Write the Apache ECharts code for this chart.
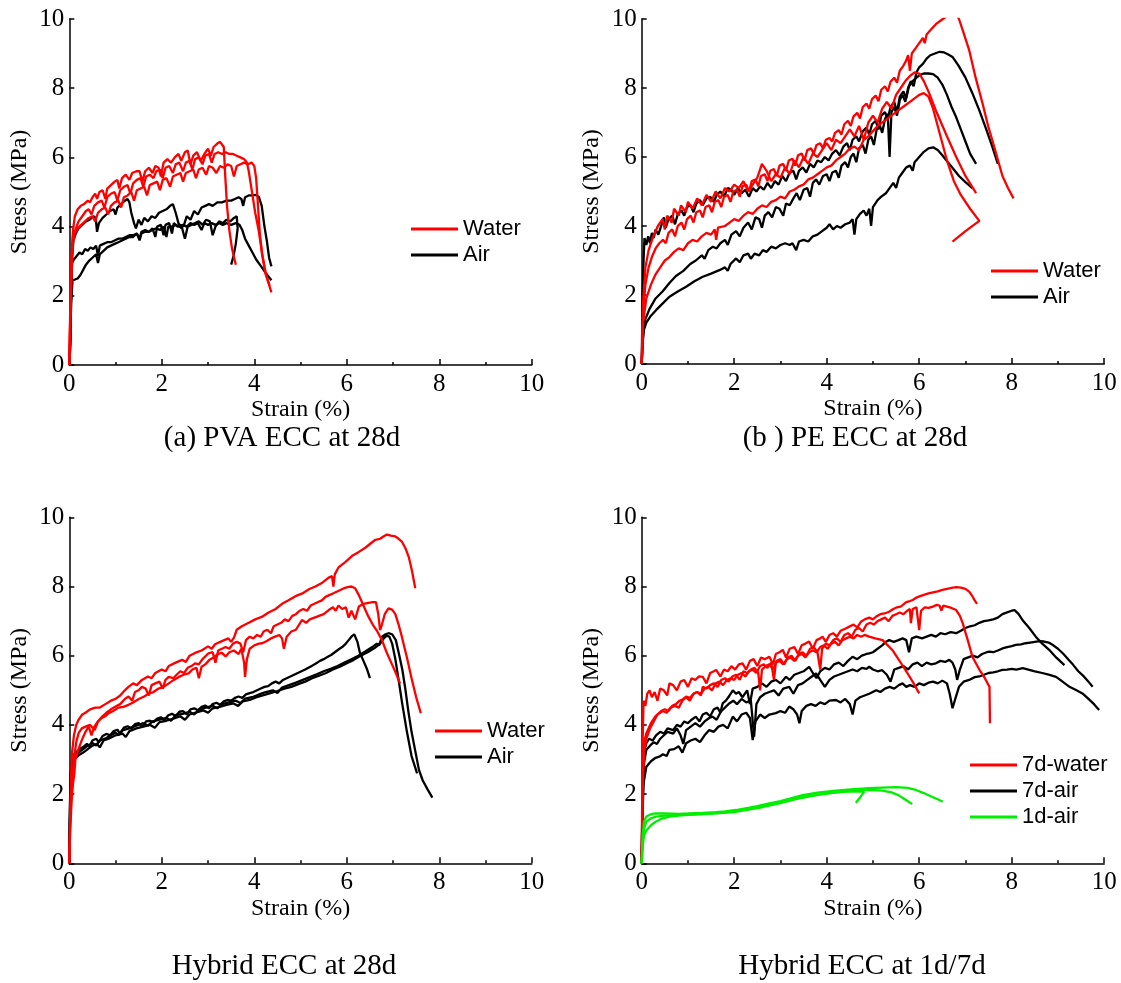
<!DOCTYPE html>
<html>
<head>
<meta charset="utf-8">
<script src="https://cdn.jsdelivr.net/npm/echarts@6/dist/echarts.min.js"></script>
<style>html,body{margin:0;padding:0;background:#fff}#c{width:1121px;height:983px}</style>
</head>
<body>
<div id="c"></div>
<script>
// ---------------- DATA ----------------
const xTicks = [0, 2, 4, 6, 8, 10];
const yTicks = [0, 2, 4, 6, 8, 10];
const captions = ['(a) PVA ECC at 28d', '(b ) PE ECC at 28d', 'Hybrid ECC at 28d', 'Hybrid ECC at 1d/7d'];
const legendA = ['Water', 'Air'];
const legendD = ['7d-water', '7d-air', '1d-air'];

// (a) PVA ECC
const aWater1 = [[0,0],[0.02,1.6],[0.05,3.2],[0.08,3.9],[0.12,4.3],[0.18,4.5],[0.25,4.6],[0.32,4.65],[0.4,4.75],[0.45,4.7],[0.5,4.85],[0.56,4.95],[0.6,4.8],[0.65,5.0],[0.72,5.05],[0.78,4.8],[0.82,5.1],[0.9,5.2],[0.98,5.3],[1.04,5.35],[1.08,5.1],[1.14,5.4],[1.22,5.5],[1.3,5.35],[1.36,5.55],[1.45,5.6],[1.52,5.6],[1.58,5.3],[1.64,5.6],[1.72,5.7],[1.8,5.55],[1.86,5.75],[1.93,5.7],[1.98,5.45],[2.04,5.85],[2.12,5.95],[2.2,5.85],[2.28,6.0],[2.36,6.1],[2.42,5.9],[2.5,6.15],[2.56,6.2],[2.62,5.8],[2.68,6.05],[2.76,6.15],[2.84,5.9],[2.92,6.1],[3.0,6.25],[3.06,6.05],[3.12,6.3],[3.2,6.4],[3.26,6.45],[3.3,6.5],[3.34,6.3],[3.37,5.5],[3.41,4.6],[3.46,3.9],[3.52,3.35],[3.6,2.9]];
const aWater2 = [[0,0],[0.02,1.4],[0.05,3.0],[0.08,3.7],[0.13,3.9],[0.2,4.15],[0.28,4.3],[0.36,4.45],[0.42,4.5],[0.48,4.35],[0.54,4.6],[0.62,4.7],[0.7,4.75],[0.76,4.55],[0.82,4.85],[0.9,4.95],[0.98,5.0],[1.04,4.75],[1.1,5.05],[1.18,5.15],[1.26,5.2],[1.32,4.95],[1.38,5.25],[1.46,5.35],[1.54,5.4],[1.6,5.15],[1.66,5.45],[1.74,5.5],[1.82,5.4],[1.88,5.6],[1.96,5.65],[2.02,5.4],[2.08,5.7],[2.16,5.75],[2.24,5.55],[2.3,5.8],[2.38,5.85],[2.46,5.6],[2.52,5.85],[2.6,5.9],[2.66,5.65],[2.72,5.95],[2.8,6.0],[2.88,5.8],[2.94,6.05],[3.02,6.1],[3.08,5.85],[3.14,6.1],[3.22,6.15],[3.3,6.1],[3.38,6.15],[3.46,6.1],[3.54,6.1],[3.62,6.05],[3.7,6.0],[3.78,5.95],[3.84,5.85],[3.88,5.6],[3.95,5.0],[4.02,4.4],[4.1,3.85],[4.17,3.2],[4.24,2.7],[4.3,2.4],[4.37,2.1]];
const aWater3 = [[0,0],[0.02,1.2],[0.05,2.8],[0.08,3.55],[0.12,3.8],[0.18,3.95],[0.26,4.05],[0.34,4.15],[0.42,4.25],[0.5,4.3],[0.56,4.15],[0.62,4.4],[0.7,4.5],[0.78,4.55],[0.84,4.35],[0.9,4.6],[0.98,4.7],[1.06,4.75],[1.12,4.55],[1.18,4.85],[1.26,4.9],[1.34,5.0],[1.4,4.75],[1.46,5.05],[1.54,5.1],[1.62,5.15],[1.68,4.9],[1.74,5.2],[1.82,5.25],[1.9,5.3],[1.96,5.05],[2.02,5.35],[2.1,5.4],[2.18,5.15],[2.24,5.45],[2.32,5.5],[2.4,5.55],[2.46,5.3],[2.52,5.55],[2.6,5.6],[2.68,5.65],[2.74,5.4],[2.8,5.65],[2.88,5.7],[2.96,5.5],[3.02,5.75],[3.1,5.7],[3.18,5.55],[3.26,5.75],[3.34,5.7],[3.42,5.8],[3.5,5.75],[3.56,5.45],[3.62,5.75],[3.7,5.8],[3.78,5.85],[3.86,5.8],[3.94,5.85],[4.0,5.75],[4.04,5.4],[4.08,4.6],[4.12,3.8],[4.17,3.2],[4.24,2.65],[4.33,2.3]];
const aAir1 = [[0,0],[0.02,0.5],[0.04,2.0],[0.06,3.1],[0.09,3.6],[0.14,3.8],[0.2,3.95],[0.28,4.05],[0.36,4.15],[0.44,4.2],[0.52,4.3],[0.57,4.25],[0.6,3.85],[0.64,4.1],[0.72,4.25],[0.8,4.35],[0.88,4.45],[0.96,4.5],[1.0,4.35],[1.04,4.55],[1.12,4.65],[1.2,4.75],[1.26,4.8],[1.3,4.7],[1.34,4.4],[1.4,4.1],[1.44,3.95],[1.5,4.2],[1.56,4.05],[1.62,4.25],[1.7,4.15],[1.78,4.3],[1.86,4.25],[1.94,4.4],[2.02,4.45],[2.1,4.5],[2.18,4.6],[2.24,4.65],[2.3,4.4],[2.36,4.1],[2.42,3.95],[2.48,4.05],[2.54,4.3],[2.62,4.2],[2.7,4.45],[2.78,4.35],[2.86,4.55],[2.94,4.6],[3.02,4.65],[3.1,4.6],[3.2,4.7],[3.3,4.7],[3.4,4.75],[3.5,4.75],[3.58,4.8],[3.66,4.85],[3.72,4.8],[3.76,4.6],[3.8,4.85],[3.88,4.9],[3.96,4.9],[4.04,4.92],[4.1,4.85],[4.16,4.6],[4.22,4.0],[4.27,3.6],[4.32,3.1],[4.37,2.85]];
const aAir2 = [[0,0],[0.02,0.8],[0.04,2.2],[0.06,2.95],[0.1,3.05],[0.16,3.15],[0.22,3.25],[0.28,3.2],[0.34,3.35],[0.4,3.3],[0.46,3.4],[0.52,3.35],[0.58,3.45],[0.62,3.15],[0.66,3.45],[0.74,3.5],[0.82,3.55],[0.9,3.55],[0.98,3.6],[1.06,3.65],[1.14,3.65],[1.22,3.7],[1.3,3.75],[1.38,3.75],[1.46,3.8],[1.52,3.65],[1.56,3.85],[1.64,3.9],[1.72,3.85],[1.8,3.95],[1.86,3.7],[1.9,4.0],[1.98,4.05],[2.04,3.75],[2.08,4.05],[2.16,4.1],[2.22,3.8],[2.26,4.1],[2.34,4.0],[2.42,4.05],[2.5,3.65],[2.56,4.0],[2.64,4.05],[2.72,4.1],[2.8,4.15],[2.88,4.05],[2.96,4.2],[3.04,4.15],[3.1,3.75],[3.16,4.0],[3.24,4.15],[3.32,4.1],[3.4,4.2],[3.48,4.15],[3.56,4.25],[3.62,4.3],[3.66,4.3],[3.64,3.95],[3.6,3.5],[3.55,3.15],[3.5,2.9]];
const aAir3 = [[0,0],[0.02,0.6],[0.04,1.8],[0.07,2.45],[0.12,2.47],[0.18,2.5],[0.24,2.6],[0.3,2.75],[0.36,2.9],[0.42,3.0],[0.5,3.1],[0.58,3.2],[0.62,2.95],[0.66,3.2],[0.74,3.3],[0.82,3.4],[0.9,3.45],[0.98,3.5],[1.06,3.55],[1.14,3.6],[1.22,3.65],[1.3,3.7],[1.38,3.7],[1.46,3.8],[1.52,3.6],[1.56,3.8],[1.64,3.85],[1.72,3.85],[1.8,3.9],[1.88,3.95],[1.96,3.9],[2.04,4.0],[2.1,3.7],[2.14,4.0],[2.22,4.0],[2.3,4.05],[2.38,4.0],[2.46,4.05],[2.54,4.0],[2.62,4.1],[2.7,4.05],[2.78,4.1],[2.86,3.9],[2.92,4.1],[3.0,4.05],[3.08,4.1],[3.16,4.05],[3.24,4.1],[3.32,4.05],[3.4,4.1],[3.5,4.05],[3.6,4.1],[3.68,4.05],[3.74,3.9],[3.8,3.65],[3.88,3.45],[3.96,3.25],[4.04,3.05],[4.12,2.9],[4.2,2.75],[4.28,2.6],[4.37,2.45]];

// (b) PE ECC
const bWater1 = [[0,0],[0.03,1.5],[0.08,2.3],[0.15,2.8],[0.22,3.1],[0.3,3.35],[0.38,3.5],[0.46,3.6],[0.52,3.5],[0.58,3.8],[0.66,3.9],[0.72,3.7],[0.78,4.0],[0.86,4.1],[0.92,3.9],[0.98,4.2],[1.06,4.3],[1.12,4.1],[1.18,4.4],[1.26,4.45],[1.32,4.25],[1.38,4.55],[1.46,4.6],[1.52,4.4],[1.58,4.7],[1.66,4.75],[1.72,4.55],[1.78,4.85],[1.86,4.9],[1.92,4.7],[1.98,5.0],[2.06,5.05],[2.12,4.85],[2.18,5.15],[2.26,5.2],[2.32,5.0],[2.38,5.3],[2.46,5.35],[2.52,5.15],[2.58,5.45],[2.66,5.5],[2.72,5.3],[2.78,5.6],[2.86,5.65],[2.92,5.45],[2.98,5.75],[3.06,5.8],[3.12,5.6],[3.18,5.9],[3.26,5.95],[3.32,5.75],[3.38,6.05],[3.46,6.1],[3.52,5.9],[3.58,6.2],[3.66,6.25],[3.72,6.1],[3.78,6.35],[3.86,6.4],[3.92,6.25],[3.98,6.5],[4.06,6.55],[4.12,6.45],[4.18,6.7],[4.26,6.78],[4.32,6.65],[4.38,6.95],[4.46,7.05],[4.52,6.9],[4.58,7.18],[4.66,7.28],[4.72,7.12],[4.78,7.45],[4.86,7.55],[4.92,7.4],[4.98,7.68],[5.06,7.78],[5.12,7.62],[5.18,7.95],[5.26,8.05],[5.32,7.9],[5.38,8.18],[5.46,8.3],[5.52,8.15],[5.58,8.5],[5.66,8.65],[5.72,8.8],[5.76,8.95],[5.8,8.5],[5.84,9.0],[5.92,9.15],[6.0,9.3],[6.08,9.45],[6.12,9.3],[6.16,9.55],[6.26,9.7],[6.36,9.85],[6.46,9.95],[6.56,10.05],[6.66,10.15],[6.78,10.2],[6.86,10.0],[6.96,9.6],[7.08,9.1],[7.22,8.3],[7.37,7.55],[7.5,6.85],[7.62,6.3],[7.8,5.45],[7.92,5.1],[8.04,4.8]];
const bWater2 = [[0,0],[0.03,1.8],[0.08,2.8],[0.15,3.3],[0.25,3.7],[0.35,4.0],[0.45,4.2],[0.5,3.9],[0.55,4.3],[0.65,4.1],[0.7,4.5],[0.8,4.3],[0.85,4.6],[0.95,4.4],[1.0,4.7],[1.1,4.5],[1.2,4.8],[1.3,4.6],[1.4,4.9],[1.5,4.7],[1.6,5.0],[1.7,4.8],[1.8,5.1],[1.9,5.0],[2.0,5.2],[2.1,5.1],[2.2,5.3],[2.3,5.0],[2.4,5.2],[2.5,5.4],[2.6,5.8],[2.7,5.6],[2.8,5.3],[2.9,5.5],[3.0,5.4],[3.1,5.7],[3.2,5.5],[3.3,5.9],[3.4,5.7],[3.5,6.0],[3.6,5.8],[3.7,6.1],[3.8,6.0],[3.9,6.2],[4.0,6.4],[4.1,6.2],[4.2,6.5],[4.3,6.4],[4.4,6.6],[4.5,6.8],[4.6,6.6],[4.7,6.9],[4.8,6.5],[4.9,7.0],[5.0,7.2],[5.1,7.0],[5.2,7.4],[5.3,7.6],[5.4,7.4],[5.5,7.8],[5.6,8.0],[5.7,8.2],[5.8,8.35],[5.9,8.45],[6.0,8.42],[6.1,8.2],[6.2,7.9],[6.36,7.35],[6.6,6.6],[6.8,6.0],[7.0,5.45],[7.23,4.95]];
const bWater3 = [[0,0],[0.03,1.2],[0.1,1.9],[0.2,2.3],[0.3,2.6],[0.4,2.8],[0.5,3.0],[0.6,3.1],[0.7,3.25],[0.8,3.35],[0.9,3.3],[1.0,3.5],[1.1,3.6],[1.2,3.55],[1.3,3.7],[1.4,3.8],[1.5,3.75],[1.58,3.9],[1.61,3.6],[1.65,3.95],[1.8,4.0],[1.9,4.1],[2.0,4.2],[2.1,4.15],[2.2,4.3],[2.3,4.4],[2.4,4.35],[2.5,4.5],[2.6,4.6],[2.7,4.55],[2.8,4.7],[2.9,4.75],[3.0,4.85],[3.1,4.8],[3.2,5.0],[3.3,5.05],[3.4,5.15],[3.5,5.2],[3.6,5.35],[3.7,5.4],[3.8,5.5],[3.9,5.6],[4.0,5.7],[4.1,5.75],[4.2,5.9],[4.3,6.0],[4.4,6.1],[4.5,6.25],[4.6,6.3],[4.7,6.2],[4.8,6.5],[4.9,6.6],[5.0,6.75],[5.1,6.9],[5.2,7.0],[5.3,7.1],[5.4,7.2],[5.5,7.3],[5.6,7.4],[5.7,7.5],[5.8,7.6],[5.9,7.7],[6.0,7.8],[6.1,7.85],[6.2,7.75],[6.3,7.4],[6.4,6.9],[6.5,6.4],[6.6,5.9],[6.75,5.3],[6.9,4.9],[7.1,4.5],[7.3,4.15],[7.0,3.85],[6.72,3.55]];
const bAir1 = [[0,0],[0.02,2.0],[0.04,3.0],[0.06,3.65],[0.1,3.45],[0.14,3.7],[0.18,3.5],[0.22,3.8],[0.26,3.65],[0.3,3.9],[0.36,3.75],[0.42,4.0],[0.48,4.25],[0.52,3.95],[0.58,4.2],[0.66,4.3],[0.72,4.05],[0.78,4.35],[0.86,4.45],[0.92,4.3],[0.98,4.55],[1.06,4.6],[1.12,4.4],[1.18,4.65],[1.26,4.75],[1.32,4.6],[1.4,4.8],[1.48,4.85],[1.56,4.7],[1.62,4.9],[1.7,5.0],[1.78,4.85],[1.86,5.1],[1.94,5.05],[2.0,4.9],[2.08,5.1],[2.16,4.95],[2.24,5.05],[2.32,4.85],[2.4,5.1],[2.48,5.0],[2.56,5.15],[2.64,5.05],[2.72,5.25],[2.8,5.1],[2.88,5.3],[2.96,5.2],[3.04,5.45],[3.12,5.3],[3.2,5.55],[3.28,5.6],[3.34,5.35],[3.4,5.6],[3.48,5.7],[3.56,5.55],[3.64,5.8],[3.72,5.7],[3.8,5.9],[3.88,5.85],[3.96,6.0],[4.04,5.9],[4.12,6.1],[4.2,6.2],[4.28,6.05],[4.36,6.3],[4.44,6.4],[4.5,6.2],[4.56,6.5],[4.64,6.6],[4.7,6.45],[4.78,6.75],[4.86,6.85],[4.92,6.65],[4.98,6.95],[5.06,7.05],[5.12,6.8],[5.18,7.2],[5.26,7.3],[5.32,7.1],[5.38,7.45],[5.46,7.6],[5.52,7.3],[5.58,7.75],[5.66,7.9],[5.72,7.7],[5.78,8.05],[5.86,8.2],[5.94,8.3],[6.02,8.38],[6.1,8.42],[6.2,8.42],[6.3,8.4],[6.4,8.3],[6.5,8.1],[6.6,7.8],[6.7,7.45],[6.8,7.15],[6.9,6.8],[7.0,6.45],[7.1,6.1],[7.23,5.8]];
const bAir2 = [[0,0],[0.03,0.9],[0.08,1.3],[0.17,1.6],[0.3,1.9],[0.45,2.1],[0.6,2.35],[0.74,2.55],[0.9,2.7],[1.05,2.9],[1.17,3.0],[1.3,3.15],[1.36,3.05],[1.44,3.3],[1.54,3.4],[1.62,3.35],[1.7,3.5],[1.8,3.6],[1.86,3.45],[1.94,3.75],[2.04,3.85],[2.12,3.7],[2.2,3.95],[2.3,4.1],[2.38,3.9],[2.46,4.25],[2.54,4.2],[2.6,3.95],[2.66,4.3],[2.74,4.4],[2.82,4.25],[2.9,4.55],[2.98,4.5],[3.06,4.3],[3.12,4.65],[3.2,4.6],[3.28,4.8],[3.35,4.95],[3.42,4.75],[3.5,5.05],[3.58,5.1],[3.64,4.85],[3.7,5.25],[3.77,5.35],[3.84,5.2],[3.92,5.45],[4.0,5.5],[4.06,5.3],[4.12,5.55],[4.2,5.6],[4.26,5.4],[4.32,5.75],[4.4,5.85],[4.46,5.7],[4.52,6.0],[4.58,6.1],[4.64,5.85],[4.7,6.25],[4.78,6.35],[4.84,6.1],[4.9,6.5],[4.96,6.6],[5.02,6.35],[5.08,6.8],[5.14,6.95],[5.2,6.7],[5.26,7.1],[5.32,7.25],[5.36,6.0],[5.4,7.3],[5.46,7.45],[5.52,7.2],[5.58,7.65],[5.64,7.8],[5.7,7.6],[5.76,8.0],[5.82,8.2],[5.88,8.05],[5.94,8.45],[6.0,8.6],[6.08,8.7],[6.16,8.85],[6.24,8.95],[6.34,9.0],[6.44,9.05],[6.54,9.03],[6.62,8.98],[6.72,8.9],[6.85,8.65],[7.0,8.3],[7.15,7.85],[7.3,7.35],[7.45,6.8],[7.58,6.3],[7.7,5.8]];
const bAir3 = [[0,0],[0.02,0.6],[0.05,1.0],[0.1,1.2],[0.2,1.4],[0.31,1.56],[0.45,1.75],[0.6,1.95],[0.78,2.1],[0.96,2.24],[1.14,2.4],[1.32,2.53],[1.5,2.62],[1.68,2.72],[1.8,2.8],[1.86,2.7],[1.92,2.9],[2.04,3.06],[2.12,2.95],[2.2,3.15],[2.3,3.2],[2.36,3.05],[2.44,3.2],[2.54,3.15],[2.62,3.3],[2.7,3.25],[2.8,3.4],[2.9,3.35],[3.0,3.45],[3.1,3.5],[3.2,3.45],[3.26,3.5],[3.34,3.3],[3.4,3.55],[3.5,3.6],[3.6,3.55],[3.7,3.7],[3.8,3.75],[3.9,3.85],[4.0,3.95],[4.06,4.05],[4.14,3.9],[4.22,4.0],[4.3,3.95],[4.4,4.05],[4.5,4.1],[4.56,4.2],[4.6,3.75],[4.64,4.2],[4.72,4.35],[4.8,4.45],[4.86,4.3],[4.92,4.5],[4.96,4.0],[5.0,4.55],[5.1,4.75],[5.18,4.85],[5.28,4.95],[5.36,5.1],[5.44,5.25],[5.5,5.1],[5.56,5.4],[5.64,5.55],[5.72,5.7],[5.8,5.75],[5.86,5.6],[5.9,5.85],[6.0,6.0],[6.1,6.15],[6.2,6.25],[6.3,6.28],[6.4,6.2],[6.5,6.05],[6.62,5.85],[6.74,5.65],[6.86,5.45],[7.0,5.27],[7.15,5.1]];

// (c) Hybrid ECC 28d
const cWater1 = [[0,0],[0.02,1.5],[0.04,2.6],[0.06,3.2],[0.1,3.7],[0.15,4.0],[0.2,4.15],[0.28,4.3],[0.35,4.35],[0.45,4.45],[0.56,4.5],[0.66,4.5],[0.78,4.6],[0.9,4.7],[1.0,4.75],[1.1,4.85],[1.2,5.0],[1.28,5.1],[1.38,5.2],[1.46,5.15],[1.57,5.3],[1.7,5.4],[1.78,5.35],[1.86,5.5],[2.0,5.6],[2.08,5.55],[2.15,5.7],[2.3,5.8],[2.44,5.88],[2.52,5.82],[2.6,6.0],[2.72,6.08],[2.86,6.15],[3.0,6.27],[3.08,6.2],[3.15,6.33],[3.3,6.42],[3.44,6.5],[3.5,6.4],[3.56,6.52],[3.62,6.75],[3.73,6.85],[3.88,6.95],[4.02,7.05],[4.16,7.12],[4.31,7.25],[4.46,7.35],[4.6,7.5],[4.74,7.6],[4.89,7.72],[5.04,7.8],[5.18,7.92],[5.32,8.0],[5.46,8.1],[5.6,8.25],[5.68,8.3],[5.71,8.0],[5.74,8.35],[5.82,8.55],[5.96,8.7],[6.11,8.88],[6.26,9.0],[6.4,9.12],[6.52,9.25],[6.62,9.35],[6.72,9.38],[6.8,9.45],[6.87,9.5],[6.95,9.47],[7.05,9.45],[7.12,9.38],[7.19,9.3],[7.27,9.1],[7.34,8.85],[7.41,8.45],[7.48,7.95]];
const cWater2 = [[0,0],[0.02,1.2],[0.05,2.2],[0.1,3.0],[0.15,3.5],[0.2,3.76],[0.27,3.9],[0.35,3.95],[0.45,4.0],[0.55,3.85],[0.62,4.1],[0.71,4.24],[0.8,4.35],[0.9,4.45],[1.0,4.53],[1.1,4.6],[1.2,4.75],[1.28,4.82],[1.36,4.7],[1.42,4.95],[1.5,5.0],[1.57,5.1],[1.65,5.05],[1.72,4.85],[1.78,5.15],[1.86,5.2],[1.95,5.25],[2.02,5.05],[2.08,5.3],[2.15,5.39],[2.25,5.35],[2.32,5.45],[2.4,5.55],[2.48,5.5],[2.56,5.65],[2.64,5.7],[2.72,5.78],[2.8,5.75],[2.88,5.9],[3.01,6.07],[3.1,6.1],[3.16,5.8],[3.22,6.15],[3.3,6.2],[3.38,6.25],[3.46,6.2],[3.54,6.35],[3.62,6.4],[3.7,6.35],[3.76,6.1],[3.82,6.45],[3.9,6.55],[3.98,6.5],[4.06,6.6],[4.14,6.55],[4.2,6.7],[4.28,6.75],[4.36,6.65],[4.42,6.85],[4.5,6.9],[4.58,6.95],[4.66,7.05],[4.74,7.0],[4.82,7.15],[4.9,7.2],[4.98,7.3],[5.06,7.35],[5.14,7.3],[5.22,7.45],[5.3,7.5],[5.38,7.55],[5.46,7.6],[5.54,7.7],[5.62,7.75],[5.7,7.8],[5.78,7.85],[5.86,7.9],[5.94,7.95],[6.02,7.98],[6.1,8.0],[6.18,7.95],[6.26,7.75],[6.36,7.45],[6.46,7.15],[6.56,6.9],[6.66,6.7],[6.76,6.45],[6.86,6.1],[6.96,5.8],[7.06,5.5],[7.15,5.2]];
const cWater3 = [[0,0],[0.02,1.0],[0.05,1.8],[0.08,2.3],[0.11,2.6],[0.13,2.99],[0.2,3.3],[0.27,3.56],[0.35,3.8],[0.42,3.95],[0.48,3.7],[0.54,3.95],[0.62,4.1],[0.7,4.2],[0.78,4.25],[0.85,4.34],[0.95,4.4],[1.06,4.5],[1.17,4.52],[1.28,4.58],[1.38,4.65],[1.5,4.75],[1.62,4.82],[1.72,4.91],[1.82,4.95],[1.93,5.05],[2.04,5.1],[2.15,5.2],[2.26,5.3],[2.36,5.38],[2.47,5.45],[2.58,5.49],[2.66,5.6],[2.75,5.65],[2.8,5.35],[2.86,5.68],[2.94,5.75],[3.03,5.88],[3.12,5.95],[3.22,6.05],[3.3,6.08],[3.38,5.98],[3.46,6.1],[3.56,6.15],[3.66,6.05],[3.72,6.2],[3.78,5.8],[3.8,5.39],[3.84,5.9],[3.9,6.2],[4.0,6.3],[4.1,6.35],[4.17,6.36],[4.26,6.42],[4.36,6.5],[4.45,6.55],[4.54,6.6],[4.6,6.5],[4.64,6.2],[4.7,6.55],[4.8,6.7],[4.9,6.75],[5.03,7.03],[5.12,6.95],[5.2,7.05],[5.3,7.1],[5.4,7.15],[5.5,7.2],[5.61,7.32],[5.7,7.4],[5.76,7.3],[5.82,7.45],[5.9,7.35],[5.98,7.4],[6.04,7.1],[6.1,7.3],[6.18,7.05],[6.26,7.42],[6.36,7.5],[6.47,7.53],[6.56,7.55],[6.63,7.55],[6.68,7.2],[6.72,6.74],[6.76,6.9],[6.82,7.2],[6.9,7.37],[6.98,7.33],[7.05,7.2],[7.12,6.9],[7.19,6.55],[7.3,5.95],[7.4,5.35],[7.5,4.8],[7.6,4.34]];
const cAir1 = [[0,0],[0.01,1.5],[0.03,2.6],[0.06,3.0],[0.1,3.15],[0.16,3.22],[0.22,3.3],[0.3,3.36],[0.38,3.45],[0.44,3.38],[0.5,3.55],[0.58,3.6],[0.64,3.5],[0.72,3.68],[0.8,3.74],[0.88,3.7],[0.96,3.82],[1.04,3.86],[1.1,3.74],[1.18,3.92],[1.26,3.96],[1.34,3.9],[1.42,4.02],[1.5,4.05],[1.58,3.95],[1.66,4.1],[1.74,4.12],[1.82,4.08],[1.9,4.18],[1.98,4.22],[2.06,4.14],[2.14,4.28],[2.22,4.32],[2.3,4.26],[2.38,4.38],[2.46,4.4],[2.54,4.3],[2.62,4.45],[2.7,4.48],[2.78,4.42],[2.86,4.52],[2.94,4.56],[3.02,4.48],[3.1,4.6],[3.18,4.64],[3.26,4.58],[3.34,4.68],[3.42,4.72],[3.5,4.7],[3.58,4.78],[3.66,4.82],[3.74,4.78],[3.82,4.88],[3.9,4.92],[3.98,4.95],[4.06,5.0],[4.14,5.05],[4.22,5.1],[4.3,5.12],[4.38,5.2],[4.46,5.25],[4.54,5.2],[4.62,5.3],[4.7,5.35],[4.78,5.4],[4.86,5.45],[4.94,5.5],[5.02,5.55],[5.1,5.6],[5.18,5.66],[5.26,5.72],[5.34,5.78],[5.42,5.85],[5.5,5.9],[5.58,5.96],[5.66,6.02],[5.74,6.1],[5.82,6.18],[5.9,6.25],[5.98,6.35],[6.04,6.45],[6.1,6.55],[6.16,6.62],[6.2,6.67],[6.23,6.4],[6.28,6.1],[6.36,5.85],[6.44,5.6],[6.5,5.35]];
const cAir2 = [[0,0],[0.01,1.2],[0.03,2.3],[0.06,2.9],[0.1,3.1],[0.2,3.2],[0.3,3.3],[0.4,3.4],[0.5,3.48],[0.58,3.4],[0.66,3.55],[0.8,3.62],[0.9,3.7],[1.0,3.78],[1.06,3.7],[1.14,3.84],[1.3,3.9],[1.45,3.98],[1.6,4.05],[1.7,3.98],[1.8,4.1],[1.95,4.15],[2.1,4.2],[2.2,4.12],[2.3,4.28],[2.45,4.32],[2.6,4.38],[2.7,4.3],[2.8,4.44],[2.95,4.5],[3.1,4.55],[3.2,4.48],[3.3,4.6],[3.45,4.65],[3.6,4.7],[3.7,4.63],[3.8,4.76],[3.95,4.8],[4.1,4.88],[4.25,4.95],[4.4,5.0],[4.5,4.92],[4.6,5.08],[4.75,5.15],[4.9,5.22],[5.05,5.3],[5.2,5.38],[5.35,5.46],[5.5,5.55],[5.65,5.62],[5.8,5.7],[5.95,5.8],[6.1,5.9],[6.25,6.0],[6.4,6.12],[6.55,6.25],[6.65,6.35],[6.7,6.3],[6.76,6.55],[6.84,6.62],[6.9,6.65],[6.98,6.62],[7.06,6.45],[7.12,6.1],[7.2,5.6],[7.27,5.0],[7.33,4.4],[7.4,3.8],[7.48,3.25],[7.56,2.7],[7.64,2.4],[7.74,2.15],[7.85,1.9]];
const cAir3 = [[0,0],[0.01,1.0],[0.03,2.0],[0.06,2.7],[0.1,3.0],[0.2,3.12],[0.3,3.2],[0.4,3.3],[0.5,3.4],[0.6,3.45],[0.66,3.35],[0.74,3.55],[0.85,3.6],[1.0,3.7],[1.15,3.75],[1.22,3.65],[1.3,3.82],[1.45,3.9],[1.6,3.95],[1.75,4.0],[1.85,3.92],[1.95,4.08],[2.1,4.12],[2.25,4.18],[2.4,4.25],[2.5,4.15],[2.6,4.3],[2.75,4.36],[2.9,4.42],[3.0,4.35],[3.1,4.48],[3.25,4.52],[3.4,4.58],[3.55,4.62],[3.65,4.55],[3.75,4.68],[3.9,4.72],[4.05,4.8],[4.2,4.86],[4.35,4.92],[4.5,4.98],[4.65,5.05],[4.8,5.1],[4.95,5.18],[5.1,5.25],[5.25,5.35],[5.4,5.42],[5.55,5.5],[5.7,5.6],[5.85,5.68],[6.0,5.78],[6.15,5.88],[6.3,6.0],[6.45,6.1],[6.6,6.22],[6.72,6.35],[6.8,6.5],[6.86,6.58],[6.92,6.55],[6.98,6.35],[7.05,5.9],[7.12,5.3],[7.2,4.6],[7.3,3.8],[7.4,3.1],[7.52,2.6]];

// (d) Hybrid ECC 1d/7d
const dWater1 = [[0,0],[0.02,3.5],[0.04,4.7],[0.08,4.55],[0.12,4.9],[0.17,5.0],[0.22,4.8],[0.28,4.95],[0.34,4.7],[0.4,5.05],[0.48,5.0],[0.55,4.85],[0.6,5.2],[0.68,5.15],[0.76,5.0],[0.84,5.25],[0.92,5.3],[1.0,5.1],[1.08,5.35],[1.16,5.3],[1.24,5.4],[1.32,5.39],[1.4,5.2],[1.48,5.5],[1.56,5.55],[1.61,5.59],[1.7,5.4],[1.78,5.6],[1.86,5.55],[1.94,5.7],[2.02,5.6],[2.1,5.75],[2.18,5.78],[2.26,5.6],[2.34,5.85],[2.42,5.9],[2.5,5.7],[2.58,5.95],[2.66,5.9],[2.76,5.97],[2.84,5.75],[2.9,6.05],[2.98,6.1],[3.05,6.17],[3.12,5.95],[3.2,6.2],[3.3,6.25],[3.38,6.05],[3.46,6.3],[3.54,6.35],[3.62,6.41],[3.7,6.2],[3.78,6.45],[3.86,6.5],[3.91,6.55],[3.98,6.4],[4.06,6.6],[4.14,6.65],[4.22,6.55],[4.3,6.72],[4.4,6.78],[4.49,6.84],[4.58,6.9],[4.66,6.82],[4.74,6.98],[4.82,7.05],[4.92,7.1],[5.0,7.05],[5.07,7.13],[5.16,7.2],[5.25,7.22],[5.35,7.27],[5.44,7.35],[5.52,7.4],[5.6,7.42],[5.64,7.47],[5.72,7.55],[5.8,7.58],[5.86,7.61],[5.94,7.68],[6.02,7.72],[6.1,7.76],[6.2,7.8],[6.3,7.83],[6.4,7.86],[6.5,7.9],[6.6,7.93],[6.7,7.96],[6.8,7.98],[6.9,7.97],[7.0,7.93],[7.08,7.85],[7.15,7.72],[7.2,7.6],[7.25,7.5]];
const dWater2 = [[0,0],[0.02,2.5],[0.05,3.5],[0.1,3.76],[0.2,4.05],[0.3,4.25],[0.38,4.34],[0.46,4.4],[0.54,4.35],[0.62,4.5],[0.72,4.55],[0.8,4.5],[0.88,4.7],[0.96,4.8],[1.04,4.7],[1.12,4.9],[1.2,4.95],[1.28,4.85],[1.32,5.1],[1.4,5.05],[1.48,5.15],[1.56,5.2],[1.64,5.1],[1.72,5.3],[1.8,5.35],[1.88,5.25],[1.96,5.4],[2.04,5.45],[2.12,5.3],[2.2,5.55],[2.28,5.5],[2.36,5.6],[2.44,5.65],[2.52,5.5],[2.56,5.0],[2.6,5.6],[2.68,5.7],[2.76,5.75],[2.84,5.6],[2.92,5.85],[3.0,5.9],[3.08,5.75],[3.16,5.95],[3.24,6.0],[3.32,5.85],[3.4,6.05],[3.48,6.1],[3.56,6.0],[3.64,6.2],[3.72,6.25],[3.8,6.1],[3.86,5.6],[3.9,6.2],[3.98,6.35],[4.06,6.3],[4.14,6.45],[4.22,6.5],[4.3,6.4],[4.38,6.6],[4.46,6.65],[4.54,6.55],[4.62,6.75],[4.7,6.8],[4.78,6.7],[4.86,6.9],[4.94,6.95],[5.02,6.9],[5.1,7.0],[5.18,7.05],[5.26,7.1],[5.34,7.0],[5.42,7.15],[5.5,7.2],[5.58,7.25],[5.66,7.2],[5.74,7.3],[5.8,7.35],[5.82,6.94],[5.86,7.35],[5.94,7.4],[6.0,6.74],[6.04,7.3],[6.12,7.4],[6.2,7.38],[6.3,7.42],[6.38,7.47],[6.44,7.45],[6.48,7.3],[6.52,7.45],[6.6,7.42],[6.7,7.38],[6.8,7.32],[6.88,7.15],[6.94,6.94],[7.05,6.45],[7.15,5.97],[7.3,5.6],[7.42,5.35],[7.52,5.1],[7.53,4.05]];
const dWater3 = [[0,0],[0.02,2.2],[0.05,3.2],[0.1,3.6],[0.18,3.9],[0.26,4.1],[0.34,4.3],[0.42,4.4],[0.5,4.45],[0.58,4.4],[0.66,4.55],[0.74,4.6],[0.82,4.7],[0.9,4.75],[0.96,4.82],[1.04,4.78],[1.12,4.9],[1.2,4.95],[1.28,4.9],[1.36,5.05],[1.44,5.1],[1.52,5.0],[1.6,5.2],[1.68,5.25],[1.76,5.15],[1.84,5.3],[1.92,5.35],[2.0,5.3],[2.08,5.45],[2.16,5.5],[2.24,5.4],[2.32,5.55],[2.4,5.6],[2.48,5.5],[2.56,5.7],[2.64,5.75],[2.72,5.65],[2.8,5.8],[2.86,5.3],[2.9,5.8],[2.98,5.85],[3.06,5.75],[3.14,5.9],[3.22,5.95],[3.3,5.85],[3.38,6.0],[3.46,6.05],[3.54,5.95],[3.62,6.1],[3.7,6.15],[3.78,6.1],[3.86,6.25],[3.94,6.3],[4.02,6.2],[4.1,6.35],[4.18,6.4],[4.26,6.3],[4.34,6.45],[4.42,6.5],[4.5,6.55],[4.58,6.5],[4.66,6.6],[4.74,6.55],[4.82,6.6],[4.92,6.55],[5.05,6.5],[5.21,6.45],[5.32,6.3],[5.43,6.15],[5.55,5.9],[5.66,5.68],[5.78,5.42],[5.88,5.2],[6.0,4.91]];
const dAir1 = [[0,0],[0.02,2.0],[0.05,3.2],[0.1,3.47],[0.16,3.6],[0.24,3.55],[0.31,3.7],[0.4,3.8],[0.48,3.75],[0.56,3.9],[0.6,3.95],[0.68,3.85],[0.76,4.0],[0.84,3.95],[0.92,4.1],[1.0,4.05],[1.08,4.15],[1.17,4.24],[1.25,4.1],[1.32,4.3],[1.4,4.35],[1.48,4.25],[1.56,4.45],[1.64,4.5],[1.7,4.35],[1.75,4.62],[1.82,4.7],[1.9,4.85],[1.97,5.0],[2.04,4.9],[2.1,4.95],[2.18,4.8],[2.28,5.0],[2.34,4.6],[2.4,5.05],[2.5,5.1],[2.6,5.2],[2.7,5.1],[2.8,5.25],[2.9,5.3],[3.0,5.2],[3.12,5.39],[3.2,5.3],[3.3,5.45],[3.4,5.5],[3.5,5.55],[3.62,5.68],[3.7,5.5],[3.78,5.35],[3.86,5.55],[3.96,5.65],[4.06,5.6],[4.16,5.75],[4.26,5.8],[4.36,5.7],[4.46,5.85],[4.56,5.97],[4.66,5.9],[4.76,6.0],[4.86,6.05],[4.92,6.07],[5.0,6.1],[5.1,6.2],[5.2,6.3],[5.28,6.4],[5.35,6.45],[5.45,6.4],[5.55,6.45],[5.64,6.5],[5.72,6.45],[5.78,6.1],[5.84,6.5],[5.94,6.55],[6.06,6.5],[6.16,6.55],[6.26,6.6],[6.36,6.55],[6.46,6.65],[6.56,6.62],[6.68,6.68],[6.8,6.65],[6.9,6.72],[7.0,6.8],[7.1,6.85],[7.2,6.88],[7.3,6.95],[7.4,7.0],[7.5,7.02],[7.6,7.05],[7.7,7.1],[7.8,7.2],[7.9,7.25],[8.0,7.3],[8.06,7.32],[8.15,7.2],[8.25,7.0],[8.38,6.8],[8.52,6.55],[8.66,6.35],[8.81,6.17],[8.96,5.95],[9.14,5.73]];
const dAir2 = [[0,0],[0.02,1.8],[0.05,2.9],[0.1,3.28],[0.18,3.4],[0.26,3.5],[0.33,3.45],[0.4,3.6],[0.48,3.7],[0.56,3.8],[0.6,3.85],[0.68,3.75],[0.76,3.9],[0.84,3.7],[0.9,3.45],[0.96,3.85],[1.06,3.95],[1.16,4.05],[1.26,3.95],[1.36,4.1],[1.46,4.2],[1.53,4.24],[1.62,4.15],[1.72,4.4],[1.8,4.5],[1.89,4.62],[1.98,4.7],[2.06,4.6],[2.16,4.75],[2.26,4.65],[2.36,4.7],[2.43,3.66],[2.48,4.6],[2.56,4.8],[2.66,4.9],[2.76,4.95],[2.86,5.0],[2.96,4.85],[3.06,5.05],[3.19,5.1],[3.28,4.9],[3.38,5.15],[3.48,5.2],[3.58,5.3],[3.68,5.4],[3.77,5.49],[3.86,5.3],[3.96,5.1],[4.06,5.3],[4.16,5.4],[4.26,5.45],[4.36,5.5],[4.46,5.55],[4.56,5.6],[4.66,5.55],[4.76,5.65],[4.86,5.62],[4.92,5.68],[5.0,5.6],[5.1,5.55],[5.2,5.58],[5.3,5.45],[5.38,5.25],[5.46,5.6],[5.56,5.65],[5.66,5.7],[5.76,5.6],[5.86,5.75],[5.96,5.8],[6.06,5.7],[6.16,5.8],[6.26,5.75],[6.36,5.78],[6.46,5.85],[6.56,5.82],[6.65,5.88],[6.72,5.8],[6.78,5.6],[6.82,5.3],[6.88,5.6],[6.96,5.9],[7.06,5.95],[7.16,6.0],[7.26,5.95],[7.36,6.05],[7.46,6.1],[7.52,6.12],[7.6,6.1],[7.7,6.15],[7.8,6.21],[7.9,6.25],[8.0,6.28],[8.09,6.31],[8.2,6.33],[8.3,6.36],[8.4,6.38],[8.5,6.4],[8.6,6.42],[8.7,6.41],[8.8,6.38],[8.9,6.3],[9.0,6.2],[9.12,6.05],[9.22,5.9],[9.32,5.75],[9.44,5.55],[9.56,5.4],[9.66,5.25],[9.75,5.1]];
const dAir3 = [[0,0],[0.02,1.5],[0.04,2.31],[0.1,2.79],[0.2,2.95],[0.3,3.05],[0.38,3.08],[0.46,3.15],[0.54,3.1],[0.6,3.28],[0.7,3.3],[0.8,3.38],[0.88,3.2],[0.96,3.47],[1.06,3.55],[1.16,3.6],[1.26,3.5],[1.36,3.7],[1.46,3.85],[1.56,3.8],[1.66,3.95],[1.76,4.0],[1.86,3.9],[1.97,4.24],[2.06,4.1],[2.16,4.3],[2.26,4.35],[2.34,4.2],[2.4,3.56],[2.46,4.1],[2.56,4.3],[2.66,4.2],[2.76,4.3],[2.9,4.34],[3.0,4.4],[3.1,4.35],[3.19,4.53],[3.28,4.45],[3.36,4.3],[3.41,4.05],[3.46,4.4],[3.56,4.55],[3.66,4.6],[3.76,4.55],[3.86,4.65],[3.96,4.6],[4.06,4.7],[4.2,4.72],[4.3,4.65],[4.4,4.75],[4.5,4.6],[4.56,4.3],[4.62,4.7],[4.72,4.8],[4.82,4.85],[4.92,4.9],[5.07,5.0],[5.16,4.95],[5.26,5.05],[5.36,5.1],[5.46,5.05],[5.56,5.15],[5.64,5.2],[5.72,5.1],[5.8,5.15],[5.9,5.1],[6.0,5.2],[6.1,5.15],[6.2,5.22],[6.3,5.25],[6.4,5.2],[6.5,5.28],[6.6,5.2],[6.66,4.9],[6.72,4.48],[6.78,4.75],[6.86,5.1],[6.96,5.25],[7.08,5.3],[7.2,5.38],[7.3,5.4],[7.4,5.45],[7.5,5.5],[7.6,5.52],[7.7,5.55],[7.8,5.59],[7.9,5.6],[8.0,5.62],[8.1,5.6],[8.24,5.64],[8.36,5.6],[8.5,5.55],[8.66,5.5],[8.8,5.45],[8.96,5.39],[9.1,5.25],[9.25,5.1],[9.4,5.0],[9.53,4.91],[9.66,4.75],[9.78,4.6],[9.89,4.43]];
const dOneAir1 = [[0,0],[0.02,0.8],[0.05,1.2],[0.1,1.35],[0.2,1.42],[0.3,1.44],[0.5,1.44],[0.8,1.43],[1.0,1.44],[1.32,1.46],[1.6,1.48],[1.8,1.5],[2.04,1.54],[2.3,1.6],[2.5,1.65],[2.76,1.73],[3.0,1.8],[3.2,1.87],[3.48,1.97],[3.8,2.04],[4.2,2.1],[4.6,2.14],[4.92,2.17],[5.2,2.19],[5.5,2.2],[5.75,2.18],[5.93,2.12],[6.1,2.03],[6.25,1.94],[6.4,1.85],[6.51,1.78]];
const dOneAir2 = [[0,0],[0.02,0.6],[0.05,1.0],[0.1,1.2],[0.2,1.3],[0.31,1.35],[0.5,1.38],[0.8,1.4],[1.0,1.41],[1.3,1.42],[1.6,1.44],[2.0,1.48],[2.3,1.55],[2.6,1.62],[3.0,1.74],[3.4,1.88],[3.8,1.98],[4.2,2.05],[4.6,2.1],[4.92,2.12],[5.2,2.1],[5.4,2.05],[5.55,1.97],[5.68,1.86],[5.78,1.77],[5.85,1.71]];
const dOneAir3 = [[0,0],[0.02,0.5],[0.05,0.8],[0.1,0.95],[0.2,1.1],[0.3,1.2],[0.45,1.3],[0.6,1.35],[0.8,1.38],[1.0,1.4],[1.3,1.42],[1.6,1.45],[2.0,1.5],[2.4,1.58],[2.8,1.7],[3.2,1.82],[3.6,1.94],[4.0,2.02],[4.4,2.07],[4.7,2.08],[4.81,2.07],[4.72,1.9],[4.63,1.75]];

// ---------------- CHART ----------------
const RED = '#ff0000', BLACK = '#000000', GREEN = '#00ee00';
const SERIF = '"Liberation Serif","Times New Roman",serif';
const SANS = '"Liberation Sans",Arial,sans-serif';

const panels = [
  { curves: [[aAir1,'Air',BLACK],[aAir2,'Air',BLACK],[aAir3,'Air',BLACK],[aWater1,'Water',RED],[aWater2,'Water',RED],[aWater3,'Water',RED]] },
  { curves: [[bAir1,'Air',BLACK],[bAir2,'Air',BLACK],[bAir3,'Air',BLACK],[bWater1,'Water',RED],[bWater2,'Water',RED],[bWater3,'Water',RED]] },
  { curves: [[cAir1,'Air',BLACK],[cAir2,'Air',BLACK],[cAir3,'Air',BLACK],[cWater1,'Water',RED],[cWater2,'Water',RED],[cWater3,'Water',RED]] },
  { curves: [[dAir1,'7d-air',BLACK],[dAir2,'7d-air',BLACK],[dAir3,'7d-air',BLACK],[dWater1,'7d-water',RED],[dWater2,'7d-water',RED],[dWater3,'7d-water',RED],[dOneAir1,'1d-air',GREEN],[dOneAir2,'1d-air',GREEN],[dOneAir3,'1d-air',GREEN]] }
];

const gridPos = [
  { left: 69.3, top: 19, width: 462.5, height: 346 },
  { left: 641.7, top: 19, width: 462.5, height: 345 },
  { left: 69.3, top: 517.3, width: 462.5, height: 346 },
  { left: 641.7, top: 517.3, width: 462.5, height: 346 }
];

const xAxes = [], yAxes = [], series = [];
gridPos.forEach((g, i) => {
  xAxes.push({
    type: 'value', gridIndex: i, min: xTicks[0], max: xTicks[xTicks.length - 1], interval: xTicks[1] - xTicks[0],
    name: 'Strain (%)', nameLocation: 'middle', nameGap: 33,
    nameTextStyle: { fontFamily: SERIF, fontSize: 24, color: '#000' },
    axisLine: { show: true, onZero: false, lineStyle: { color: '#000', width: 1.5 } },
    axisTick: { show: true, inside: true, length: 6, lineStyle: { color: '#000', width: 1.5 } },
    minorTick: { show: true, splitNumber: 2, length: 3, lineStyle: { color: '#000', width: 1.5 } },
    axisLabel: { fontFamily: SERIF, fontSize: 25, color: '#000', margin: 7 },
    splitLine: { show: false }, minorSplitLine: { show: false }
  });
  yAxes.push({
    type: 'value', gridIndex: i, min: yTicks[0], max: yTicks[yTicks.length - 1], interval: yTicks[1] - yTicks[0],
    name: 'Stress (MPa)', nameLocation: 'middle', nameGap: 38,
    nameTextStyle: { fontFamily: SERIF, fontSize: 24, color: '#000' },
    axisLine: { show: true, onZero: false, lineStyle: { color: '#000', width: 1.5 } },
    axisTick: { show: true, inside: true, length: 5, lineStyle: { color: '#000', width: 1.5 } },
    axisLabel: { fontFamily: SERIF, fontSize: 25, color: '#000', margin: 5 },
    splitLine: { show: false }
  });
  panels[i].curves.forEach(([data, name, color]) => {
    series.push({
      type: 'line', name: name, xAxisIndex: i, yAxisIndex: i, data: data,
      showSymbol: false, symbol: 'none', smooth: false, clip: true,
      lineStyle: { color: color, width: 2.3 }, itemStyle: { color: color },
      emphasis: { disabled: true }, silent: true
    });
  });
});

const legendBase = {
  orient: 'vertical', icon: 'rect', itemWidth: 47, itemHeight: 3, itemGap: 4,
  textStyle: { fontFamily: SANS, fontSize: 22, color: '#000' }, selectedMode: false
};
const legends = [
  Object.assign({}, legendBase, { data: legendA, left: 406, top: 213 }),
  Object.assign({}, legendBase, { data: legendA, left: 986, top: 255 }),
  Object.assign({}, legendBase, { data: legendA, left: 430, top: 715 }),
  Object.assign({}, legendBase, { data: legendD, left: 965, top: 749 })
];

const capPos = [[277, 419], [850, 419], [279, 947], [857, 947]];
const titles = captions.map((t, i) => ({
  text: t, left: capPos[i][0], top: capPos[i][1], textAlign: 'center',
  textStyle: { fontFamily: SERIF, fontSize: 29, fontWeight: 'normal', color: '#000' }
}));

const chart = echarts.init(document.getElementById('c'), null, { renderer: 'canvas' });
chart.setOption({
  animation: false,
  backgroundColor: '#ffffff',
  title: titles,
  legend: legends,
  grid: gridPos.map(g => Object.assign({ containLabel: false }, g)),
  xAxis: xAxes,
  yAxis: yAxes,
  series: series
});
</script>
</body>
</html>
